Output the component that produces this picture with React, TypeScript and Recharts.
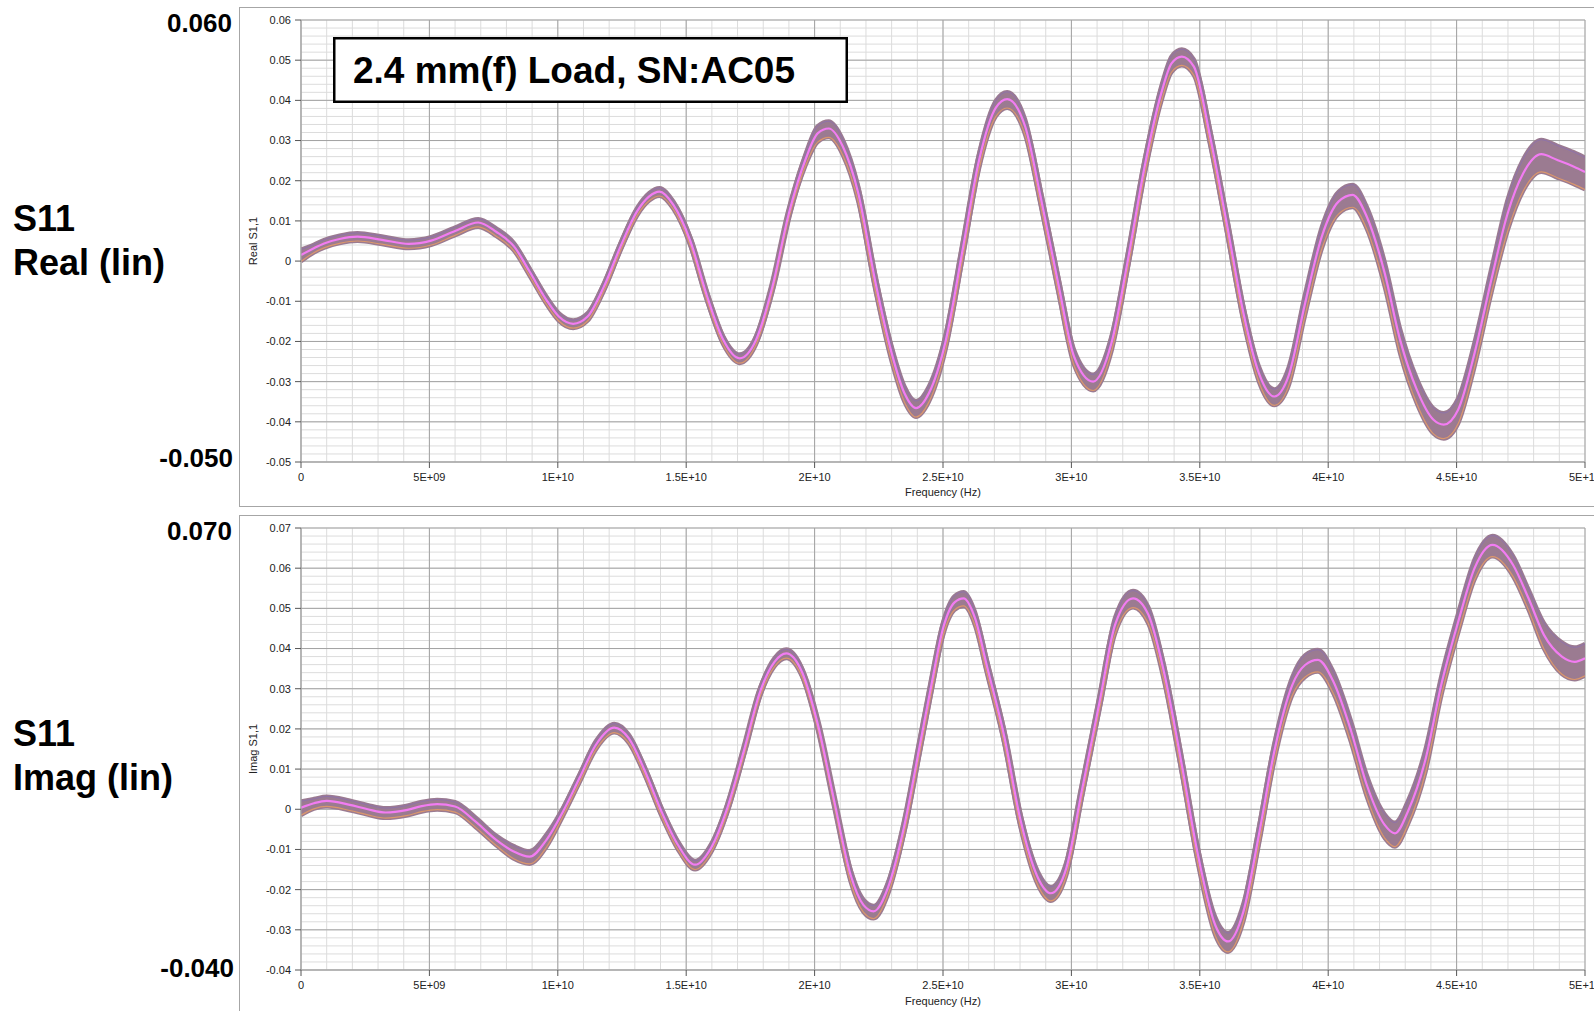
import { ComposedChart, Area, Line, XAxis, YAxis, CartesianGrid } from 'recharts';

// frequency in GHz
const realFreq = [
  0, 0.5, 0.9, 1.5, 2.2, 3.15, 4.2, 5.07, 6.0, 6.9, 7.6, 8.3, 8.9, 9.56, 10.04, 10.6, 11.16, 11.8,
  12.44, 13.08, 13.56, 13.96, 14.5, 15.16, 15.8, 16.44, 17.08, 17.72, 18.36, 19.0, 19.64, 20.12,
  20.55, 21.1, 21.7, 22.36, 23.0, 23.5, 23.95, 24.45, 25.1, 25.77, 26.4, 27.06, 27.5, 28.2, 28.8,
  29.5, 30.1, 30.85, 31.56, 32.2, 32.85, 33.5, 33.9, 34.3, 34.77, 35.4, 36.06, 36.7, 37.3, 37.9,
  38.45, 39.1, 39.75, 40.4, 40.95, 41.5, 42.2, 42.8, 43.45, 44.1, 44.5, 45.06, 45.7, 46.35, 46.99,
  47.6, 48.3, 48.9, 49.57, 50,
];
const realMid = [
  0.0015, 0.0032, 0.0044, 0.0055, 0.0061, 0.0053, 0.0043, 0.0051, 0.0075, 0.0096, 0.0073, 0.0036,
  -0.0026, -0.0097, -0.0138, -0.0156, -0.0138, -0.0063, 0.0036, 0.0123, 0.0161, 0.0173, 0.014,
  0.005, -0.0085, -0.0196, -0.0242, -0.0196, -0.0063, 0.0119, 0.0252, 0.0318, 0.033, 0.0285,
  0.0169, -0.005, -0.0229, -0.0329, -0.0366, -0.0329, -0.02, 0.003, 0.025, 0.0382, 0.0403, 0.0335,
  0.016, -0.006, -0.0237, -0.03, -0.0204, 0.0003, 0.0235, 0.0418, 0.0492, 0.0509, 0.0484, 0.031,
  0.009, -0.013, -0.0279, -0.0337, -0.0287, -0.0105, 0.0061, 0.0148, 0.0165, 0.0111, -0.003,
  -0.0196, -0.032, -0.0395, -0.0407, -0.037, -0.0229, -0.0047, 0.0119, 0.0219, 0.0266, 0.0252,
  0.0235, 0.0222,
];
const realHi = [
  0.0029, 0.0041, 0.0053, 0.0064, 0.007, 0.0062, 0.0052, 0.006, 0.0084, 0.0105, 0.0082, 0.0045,
  -0.0017, -0.0088, -0.0129, -0.0147, -0.0129, -0.0054, 0.0045, 0.0132, 0.017, 0.0182, 0.0149,
  0.006, -0.0075, -0.0186, -0.0232, -0.0186, -0.0053, 0.0129, 0.0266, 0.0336, 0.0348, 0.0303,
  0.0187, -0.0032, -0.0211, -0.0311, -0.0348, -0.0311, -0.0182, 0.0048, 0.0268, 0.04, 0.0421,
  0.0353, 0.0178, -0.0042, -0.0219, -0.0282, -0.0186, 0.0021, 0.0253, 0.0436, 0.051, 0.0527,
  0.0502, 0.0328, 0.0108, -0.0112, -0.0261, -0.0319, -0.0265, -0.008, 0.0086, 0.0173, 0.019,
  0.0136, -0.0001, -0.0167, -0.0291, -0.0366, -0.0378, -0.0341, -0.02, -0.0018, 0.0155, 0.0255,
  0.0302, 0.0288, 0.0271, 0.0258,
];
const realLo = [
  -0.0001, 0.0021, 0.0033, 0.0044, 0.005, 0.0042, 0.0032, 0.004, 0.0064, 0.0085, 0.0062, 0.0025,
  -0.0037, -0.0108, -0.0149, -0.0167, -0.0149, -0.0074, 0.0025, 0.0112, 0.015, 0.0162, 0.0129,
  0.0038, -0.0097, -0.0208, -0.0254, -0.0208, -0.0075, 0.0107, 0.0236, 0.0296, 0.0308, 0.0263,
  0.0147, -0.0072, -0.0251, -0.0351, -0.0388, -0.0351, -0.0222, 0.0008, 0.0228, 0.036, 0.0381,
  0.0313, 0.0138, -0.0082, -0.0259, -0.0322, -0.0226, -0.0019, 0.0213, 0.0396, 0.047, 0.0487,
  0.0462, 0.0288, 0.0068, -0.0152, -0.0301, -0.0359, -0.0313, -0.0136, 0.003, 0.0117, 0.0134,
  0.008, -0.0065, -0.0231, -0.0355, -0.043, -0.0442, -0.0405, -0.0264, -0.0082, 0.0075, 0.0175,
  0.0222, 0.0208, 0.0191, 0.0178,
];

const imagFreq = [
  0, 0.5, 1.0, 1.9, 2.6, 3.3, 4.1, 4.7, 5.3, 6.0, 6.8, 7.6, 8.28, 8.9, 9.56, 10.2, 10.84, 11.48,
  12.2, 12.76, 13.4, 14.04, 14.68, 15.35, 15.96, 16.6, 17.24, 17.88, 18.44, 18.9, 19.5, 20.13,
  20.77, 21.4, 21.9, 22.3, 22.85, 23.5, 24.1, 24.55, 25.0, 25.45, 25.8, 26.25, 26.7, 27.4, 28.0,
  28.7, 29.2, 29.8, 30.4, 31.1, 31.7, 32.4, 33.0, 33.6, 34.3, 34.9, 35.6, 36.1, 36.7, 37.3, 37.9,
  38.6, 39.1, 39.6, 40.2, 40.9, 41.5, 42.2, 42.6, 43.1, 43.8, 44.4, 45.1, 45.7, 46.4, 47.2, 47.8,
  48.4, 49.1, 49.6, 50,
];
const imagMid = [
  0.0004, 0.0015, 0.0021, 0.0011, 0.0, -0.0008, -0.0002, 0.0008, 0.0013, 0.0007, -0.0031, -0.0076,
  -0.0105, -0.0118, -0.0076, -0.0006, 0.0077, 0.016, 0.0203, 0.0177, 0.0094, -0.0006, -0.0089,
  -0.0138, -0.0097, 0.0003, 0.0144, 0.0293, 0.0367, 0.0388, 0.0343, 0.021, 0.0019, -0.0163,
  -0.0238, -0.0254, -0.0196, -0.0039, 0.016, 0.031, 0.045, 0.0515, 0.0525, 0.0475, 0.0359, 0.0177,
  -0.0022, -0.0171, -0.0209, -0.0147, 0.0044, 0.0268, 0.0459, 0.0525, 0.0484, 0.0343, 0.011,
  -0.0105, -0.0288, -0.0329, -0.0254, -0.0064, 0.0144, 0.0309, 0.0359, 0.0372, 0.0318, 0.0193,
  0.0061, -0.0039, -0.006, -0.0006, 0.0127, 0.0309, 0.0475, 0.06, 0.0658, 0.0608, 0.0525, 0.0434,
  0.038, 0.0367, 0.0376,
];
const imagHi = [
  0.002, 0.0026, 0.0032, 0.0022, 0.0011, 0.0003, 0.0009, 0.0019, 0.0024, 0.0018, -0.002, -0.0065,
  -0.0091, -0.0104, -0.0062, 0.0004, 0.0087, 0.017, 0.0213, 0.0187, 0.0104, 0.0004, -0.0079,
  -0.0128, -0.0087, 0.0013, 0.0154, 0.0303, 0.0377, 0.0398, 0.0353, 0.022, 0.0029, -0.0149,
  -0.0224, -0.024, -0.0182, -0.0025, 0.0176, 0.0326, 0.0466, 0.0531, 0.0541, 0.0491, 0.0375,
  0.0193, -0.0006, -0.0155, -0.0193, -0.0131, 0.006, 0.0284, 0.0478, 0.0544, 0.0503, 0.0362,
  0.0129, -0.0086, -0.0267, -0.0308, -0.0233, -0.0043, 0.0165, 0.033, 0.0384, 0.0397, 0.0343,
  0.0218, 0.0086, -0.0012, -0.0033, 0.0021, 0.0154, 0.0332, 0.0498, 0.0623, 0.0681, 0.0631,
  0.0548, 0.0464, 0.0416, 0.0403, 0.0412,
];
const imagLo = [
  -0.0015, 0.0001, 0.0007, -0.0003, -0.0014, -0.0022, -0.0016, -0.0006, -0.0001, -0.0007, -0.0045,
  -0.009, -0.0123, -0.0136, -0.0094, -0.0018, 0.0065, 0.0148, 0.0191, 0.0165, 0.0082, -0.0018,
  -0.0101, -0.015, -0.0109, -0.0009, 0.0132, 0.0281, 0.0355, 0.0376, 0.0331, 0.0198, 0.0007,
  -0.0181, -0.0256, -0.0272, -0.0214, -0.0057, 0.0141, 0.0291, 0.0431, 0.0496, 0.0506, 0.0456,
  0.034, 0.0158, -0.0041, -0.019, -0.0228, -0.0166, 0.0025, 0.0249, 0.0436, 0.0502, 0.0461, 0.032,
  0.0087, -0.0128, -0.0314, -0.0355, -0.028, -0.009, 0.0118, 0.0283, 0.0329, 0.0342, 0.0288,
  0.0163, 0.0031, -0.0072, -0.0093, -0.0039, 0.0094, 0.028, 0.0446, 0.0571, 0.0629, 0.0579,
  0.0496, 0.0399, 0.0336, 0.0323, 0.0332,
];

const xTicks = [0, 5, 10, 15, 20, 25, 30, 35, 40, 45, 50];
const xTickLabels = ['0', '5E+09', '1E+10', '1.5E+10', '2E+10', '2.5E+10', '3E+10', '3.5E+10', '4E+10', '4.5E+10', '5E+10'];
const realTicks = [-0.05, -0.04, -0.03, -0.02, -0.01, 0, 0.01, 0.02, 0.03, 0.04, 0.05, 0.06];
const realTickLabels = ['-0.05', '-0.04', '-0.03', '-0.02', '-0.01', '0', '0.01', '0.02', '0.03', '0.04', '0.05', '0.06'];
const imagTicks = [-0.04, -0.03, -0.02, -0.01, 0, 0.01, 0.02, 0.03, 0.04, 0.05, 0.06, 0.07];
const imagTickLabels = ['-0.04', '-0.03', '-0.02', '-0.01', '0', '0.01', '0.02', '0.03', '0.04', '0.05', '0.06', '0.07'];

const FONT = '"Liberation Sans", Arial, sans-serif';
const BAND = '#9b7b91';
const PINK = '#f27cf2';
const EDGE_TOP = '#7f68c8';
const EDGE_BOT = '#f0a060';

function rows(f: number[], mid: number[], hi: number[], lo: number[]) {
  return f.map((x, i) => ({ f: x, mid: mid[i], hi: hi[i], lo: lo[i], band: [lo[i], hi[i]] }));
}

const minorX = Array.from({ length: 51 }, (_, i) => i);

function Panel({ data, domain, ticks, labels, top }: any) {
  const minorY = Array.from({ length: 56 }, (_, i) => +(domain[0] + i * 0.002).toFixed(4));
  const tick = { fill: '#222', fontSize: 11, fontFamily: FONT };
  return (
    <div style={{ position: 'absolute', left: 239, top }}>
      <ComposedChart width={1386} height={500} data={data} margin={{ top: 13, right: 40, bottom: 15, left: 0 }}>
        <CartesianGrid stroke="#dcdcdc" horizontalValues={minorY} verticalValues={minorX} />
        <CartesianGrid stroke="#a3a3a3" horizontalValues={ticks} verticalValues={xTicks} />
        <XAxis
          type="number"
          dataKey="f"
          domain={[0, 50]}
          ticks={xTicks}
          tickFormatter={(v: number, i: number) => xTickLabels[i]}
          height={30}
          tick={tick}
          tickSize={6}
          tickMargin={5}
          tickLine={{ stroke: '#555' }}
          axisLine={{ stroke: '#a3a3a3' }}
          interval={0}
          allowDataOverflow
        />
        <YAxis
          type="number"
          domain={domain}
          ticks={ticks}
          tickFormatter={(v: number, i: number) => labels[i]}
          width={62}
          tick={tick}
          tickSize={6}
          tickMargin={4}
          tickLine={{ stroke: '#555' }}
          axisLine={{ stroke: '#a3a3a3' }}
          interval={0}
          allowDataOverflow
        />
        <Area type="monotone" dataKey="band" fill={BAND} fillOpacity={1} stroke="none" dot={false} activeDot={false} isAnimationActive={false} />
        <Line type="monotone" dataKey="hi" stroke={BAND} strokeWidth={4} dot={false} activeDot={false} isAnimationActive={false} />
        <Line type="monotone" dataKey="lo" stroke={BAND} strokeWidth={4} dot={false} activeDot={false} isAnimationActive={false} />
        <Line type="monotone" dataKey="mid" stroke={BAND} strokeWidth={7} dot={false} activeDot={false} isAnimationActive={false} />
        <Line type="monotone" dataKey="hi" stroke={EDGE_TOP} strokeOpacity={0.45} strokeWidth={1} dot={false} activeDot={false} isAnimationActive={false} />
        <Line type="monotone" dataKey="lo" stroke={EDGE_BOT} strokeOpacity={0.75} strokeWidth={1.2} dot={false} activeDot={false} isAnimationActive={false} />
        <Line type="monotone" dataKey="mid" stroke={PINK} strokeWidth={2.2} dot={false} activeDot={false} isAnimationActive={false} />
      </ComposedChart>
    </div>
  );
}

export default function App() {
  const big = { fontFamily: FONT, fontWeight: 'bold' as const, fill: '#000' };
  return (
    <div style={{ position: 'absolute', left: 0, top: 0, width: 1594, height: 1011, overflow: 'hidden', background: '#fff', fontFamily: FONT }}>
      <Panel data={rows(realFreq, realMid, realHi, realLo)} domain={[-0.05, 0.06]} ticks={realTicks} labels={realTickLabels} top={7} />
      <Panel data={rows(imagFreq, imagMid, imagHi, imagLo)} domain={[-0.04, 0.07]} ticks={imagTicks} labels={imagTickLabels} top={515} />
      <svg width={1594} height={1011} style={{ position: 'absolute', left: 0, top: 0, pointerEvents: 'none' }}>
        <rect x={239.5} y={7.5} width={1400} height={499} fill="none" stroke="#a6a6a6" />
        <rect x={239.5} y={515.5} width={1400} height={520} fill="none" stroke="#a6a6a6" />

        <text {...big} x={232} y={32} fontSize={26} textAnchor="end">0.060</text>
        <text {...big} x={233} y={467} fontSize={26} textAnchor="end">-0.050</text>
        <text {...big} x={13} y={231} fontSize={36}>S11</text>
        <text {...big} x={13} y={275} fontSize={36}>Real (lin)</text>

        <text {...big} x={232} y={540} fontSize={26} textAnchor="end">0.070</text>
        <text {...big} x={234} y={977} fontSize={26} textAnchor="end">-0.040</text>
        <text {...big} x={13} y={746} fontSize={36}>S11</text>
        <text {...big} x={13} y={790} fontSize={36}>Imag (lin)</text>

        <text x={257} y={241} transform="rotate(-90 257 241)" textAnchor="middle" fontSize={11} fontFamily={FONT} fill="#222">Real S1,1</text>
        <text x={943} y={496} textAnchor="middle" fontSize={11} fontFamily={FONT} fill="#222">Frequency (Hz)</text>
        <text x={257} y={749} transform="rotate(-90 257 749)" textAnchor="middle" fontSize={11} fontFamily={FONT} fill="#222">Imag S1,1</text>
        <text x={943} y={1005} textAnchor="middle" fontSize={11} fontFamily={FONT} fill="#222">Frequency (Hz)</text>

        <rect x={334.25} y={38.25} width={512.5} height={63.5} fill="#fff" stroke="#000" strokeWidth={2.5} />
        <text {...big} x={353} y={83} fontSize={37}>2.4 mm(f) Load, SN:AC05</text>
      </svg>
    </div>
  );
}
